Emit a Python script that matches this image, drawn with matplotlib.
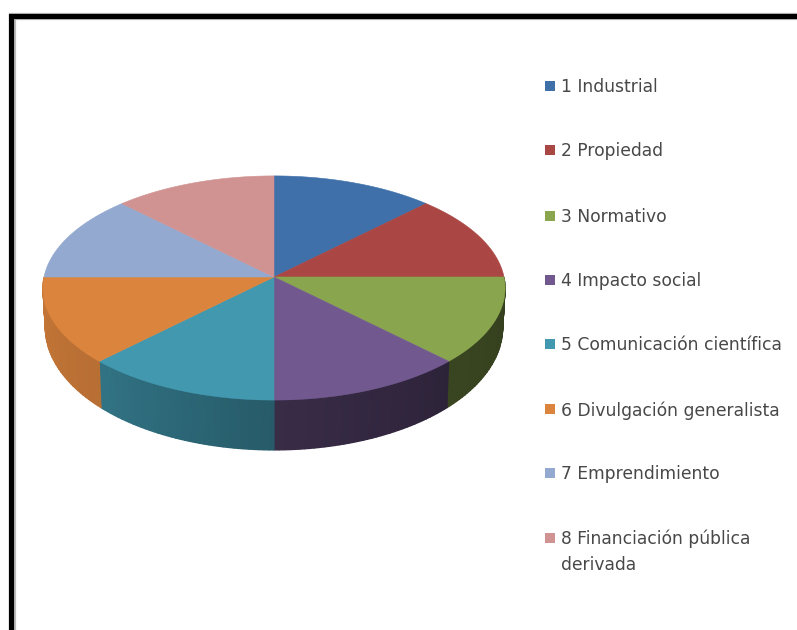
import matplotlib
matplotlib.use('Agg')
import matplotlib.pyplot as plt
from matplotlib.colors import LinearSegmentedColormap, to_rgb
from matplotlib.patches import Rectangle
import numpy as np

labels = ['1 Industrial', '2 Propiedad', '3 Normativo', '4 Impacto social',
          '5 Comunicación científica', '6 Divulgación generalista',
          '7 Emprendimiento', '8 Financiación pública\nderivada']
values = [12.5, 12.5, 12.5, 12.5, 12.5, 12.5, 12.5, 12.5]
colors = ['#3f70aa', '#aa4643', '#89a54e', '#71588f',
          '#4198af', '#db843d', '#93a9cf', '#d19392']
# how dark the rim gets, start and end of each slice
shades = [(1, 1), (1, 1), (0.38, 0.42), (0.40, 0.50),
          (0.60, 0.76), (0.84, 0.90), (1, 1), (1, 1)]
legend_y = [86, 150, 216, 280, 344, 409, 473, 538]

# pie geometry in pixels
cx, cy = 274, 277
rx, ry = 230, 111
persp = 0.098


def top_xy(theta):
    # theta in degrees, clockwise from the top of the pie
    t = np.radians(theta)
    u, v = np.sin(t), np.cos(t)
    d = 1 + persp * v
    return cx + rx * u / d, cy - ry * v / d


def bottom_xy(theta):
    x, y = top_xy(theta)
    v = np.cos(np.radians(theta))
    return cx + (x - cx) * 0.99, y + 38 - 12 * v


fig = plt.figure(figsize=(7.97, 6.30), dpi=100)
ax = fig.add_axes([0, 0, 1, 1])
ax.set_xlim(0, 797)
ax.set_ylim(630, 0)
ax.axis('off')

# frame of the screenshot
ax.plot([12, 12, 797], [630, 16, 16], color='#bbbbbb', lw=5.2, solid_joinstyle='miter')
ax.plot([11.5, 11.5, 797], [630, 15.5, 15.5], color='black', lw=3.7, solid_joinstyle='miter')

edges = np.cumsum([0] + values) / sum(values) * 360

# rim: only the front half of the pie shows it
for i, col in enumerate(colors):
    a0, a1 = max(edges[i], 90), min(edges[i + 1], 270)
    if a1 <= a0:
        continue
    th = np.linspace(a0, a1, 40)
    xt, yt = top_xy(th)
    xb, yb = bottom_xy(th)
    base = np.array(to_rgb(col))
    cmap = LinearSegmentedColormap.from_list(
        'rim', [tuple(base * shades[i][0]), tuple(base * shades[i][1])])
    ramp = np.linspace(0, 1, len(th))
    ax.pcolormesh(np.vstack([xt, xb]), np.vstack([yt, yb]), np.vstack([ramp, ramp]),
                  cmap=cmap, vmin=0, vmax=1, shading='gouraud')
ax.set_xlim(0, 797)
ax.set_ylim(630, 0)

# top face
for i, col in enumerate(colors):
    th = np.linspace(edges[i], edges[i + 1], 60)
    x, y = top_xy(th)
    ax.fill(np.r_[cx, x], np.r_[cy, y], color=col, lw=0.4)

# legend
for lab, col, y in zip(labels, colors, legend_y):
    ax.add_patch(Rectangle((545, y - 5), 10, 10, color=col, lw=0))
    ax.text(561, y - 8, lab, fontsize=12.3, family='DejaVu Sans', color='#484848',
            va='top', ha='left', linespacing=1.5)

fig.savefig('out.png', dpi=100)
